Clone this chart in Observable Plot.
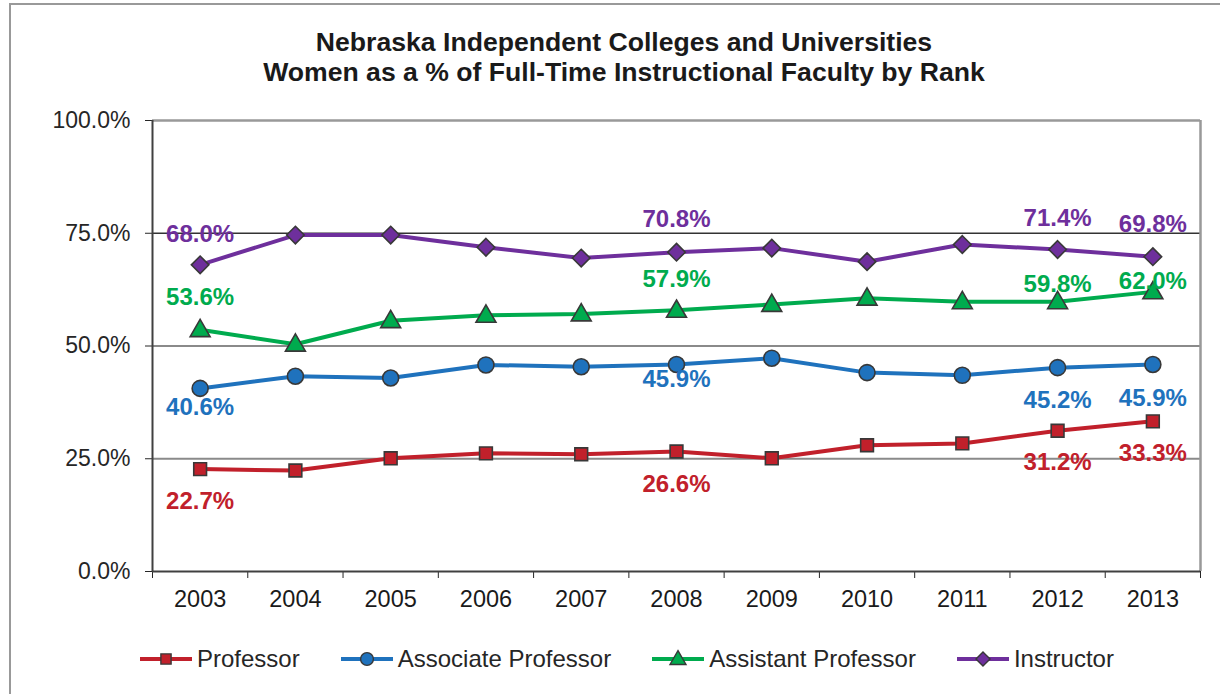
<!DOCTYPE html>
<html>
<head>
<meta charset="utf-8">
<script src="https://cdn.jsdelivr.net/npm/d3@7"></script>
<script src="https://cdn.jsdelivr.net/npm/@observablehq/plot@0.6"></script>
<style>
  html, body { margin: 0; padding: 0; background: #fff; }
  #wrap { position: relative; width: 1220px; height: 694px; overflow: hidden; background: #fff; font-family: "Liberation Sans", Arial, sans-serif; }
  #outer { position: absolute; left: 9px; top: 3px; width: 1400px; height: 900px; border: 2px solid #999; box-sizing: border-box; }
  .title { position: absolute; left: 0; width: 1248px; text-align: center; font-weight: bold; font-size: 26.6px; line-height: 30px; color: #1a1a1a; }
  #legend { position: absolute; left: 139px; top: 645px; display: flex; align-items: center; gap: 40px; font-size: 24px; color: #262626; }
  .item { display: flex; align-items: center; gap: 4px; }
  #chart { position: absolute; left: 0; top: 0; }
</style>
</head>
<body>
<div id="wrap">
  <div id="outer"></div>
  <div id="chart"></div>
  <div class="title" style="top:27px">Nebraska Independent Colleges and Universities</div>
  <div class="title" style="top:57px">Women as a % of Full-Time Instructional Faculty by Rank</div>
  <div id="legend"></div>
</div>
<script>
// ---- data ----
const years = [2003, 2004, 2005, 2006, 2007, 2008, 2009, 2010, 2011, 2012, 2013];
const seriesNames = ["Professor", "Associate Professor", "Assistant Professor", "Instructor"];
const professor = [22.7, 22.4, 25.1, 26.2, 26.0, 26.6, 25.1, 28.0, 28.4, 31.2, 33.3];
const associateProfessor = [40.6, 43.3, 42.9, 45.8, 45.4, 45.9, 47.3, 44.1, 43.5, 45.2, 45.9];
const assistantProfessor = [53.6, 50.4, 55.6, 56.8, 57.1, 57.9, 59.2, 60.6, 59.8, 59.8, 62.0];
const instructor = [68.0, 74.6, 74.6, 71.9, 69.5, 70.8, 71.7, 68.7, 72.5, 71.4, 69.8];
const yTicks = [0, 25, 50, 75, 100];
const labeledYears = [2003, 2008, 2012, 2013];

// ---- styles (kept apart from data) ----
const colors = {
  "Professor": "#C1202B",
  "Associate Professor": "#1F72BD",
  "Assistant Professor": "#00AB4E",
  "Instructor": "#6E2F9C"
};
const diamondSym = { draw(ctx, size) { const r = Math.sqrt(size / 2); ctx.moveTo(0, -r); ctx.lineTo(r, 0); ctx.lineTo(0, r); ctx.lineTo(-r, 0); ctx.closePath(); } };
const squareSym = { draw(ctx, size) { const w = Math.sqrt(size) / 2; ctx.rect(-w, -w, 2 * w, 2 * w); } };
const triSym = { draw(ctx, size) { const s = Math.sqrt(size * 4 / Math.sqrt(3)); const h = s * Math.sqrt(3) / 2; ctx.moveTo(0, -h * 0.6); ctx.lineTo(s / 2, h * 0.4); ctx.lineTo(-s / 2, h * 0.4); ctx.closePath(); } };
const symbols = {
  "Professor": {sym: squareSym, r: 7.2},
  "Associate Professor": {sym: "circle", r: 8},
  "Assistant Professor": {sym: triSym, r: 7.4},
  "Instructor": {sym: diamondSym, r: 7}
};
// label offsets in pixels (dy) for each series at labeled years
const labelDy = {
  "Professor": [32, 33, 32, 32],
  "Associate Professor": [19, 15, 33, 34],
  "Assistant Professor": [-32, -31, -17, -11],
  "Instructor": [-31, -33, -31, -32]
};

const valuesBySeries = {
  "Professor": professor,
  "Associate Professor": associateProfessor,
  "Assistant Professor": assistantProfessor,
  "Instructor": instructor
};
const data = seriesNames.flatMap(s => years.map((yr, i) => ({series: s, year: yr, value: valuesBySeries[s][i]})));

const xMin = years[0] - 0.5, xMax = years[years.length - 1] + 0.5;
const boundaries = years.map(y => y - 0.5).concat([xMax]);

const marks = [
  Plot.ruleY([25, 50], {stroke: "#8a8a8a", strokeWidth: 2}),
  Plot.ruleY([75], {stroke: "#333", strokeWidth: 1.5}),
  Plot.ruleY([yTicks[yTicks.length - 1]], {stroke: "#999", strokeWidth: 2.5}),
  Plot.ruleX([xMax], {stroke: "#999", strokeWidth: 2.5}),
  Plot.ruleX([xMin], {stroke: "#404040", strokeWidth: 2}),
  Plot.ruleY([yTicks[0]], {stroke: "#404040", strokeWidth: 2}),
  Plot.text(years, {x: d => d, text: d => String(d), frameAnchor: "bottom", dy: 35, fill: "#1a1a1a", fontSize: 23.5}),
];
for (const s of seriesNames) {
  const rows = data.filter(d => d.series === s);
  marks.push(Plot.line(rows, {x: "year", y: "value", stroke: colors[s], strokeWidth: 4}));
}
for (const s of seriesNames) {
  const rows = data.filter(d => d.series === s);
  marks.push(Plot.dot(rows, {x: "year", y: "value", symbol: () => symbols[s].sym, r: symbols[s].r, fill: colors[s], stroke: "#383838", strokeWidth: 1.6}));
}
for (const s of seriesNames) {
  labeledYears.forEach((yr, k) => {
    const rows = data.filter(d => d.series === s && d.year === yr);
    marks.push(Plot.text(rows, {
      x: "year", y: "value", text: d => d.value.toFixed(1) + "%",
      dy: labelDy[s][k], fill: colors[s], fontWeight: "bold", fontSize: 24,
      fontFamily: "'Liberation Sans Narrow', 'Arial Narrow', 'Liberation Sans', Arial, sans-serif"
    }));
  });
}

const chart = Plot.plot({
  width: 1220,
  height: 694,
  marginLeft: 152,
  marginRight: 20,
  marginTop: 120,
  marginBottom: 123,
  style: {background: "transparent", fontFamily: "'Liberation Sans', Arial, sans-serif", fontSize: "23px", color: "#262626", overflow: "visible"},
  x: {type: "linear", domain: [xMin, xMax], ticks: boundaries, tickFormat: () => "", tickSize: 7, label: null},
  y: {domain: [yTicks[0], yTicks[yTicks.length - 1]], ticks: yTicks, tickFormat: d => d.toFixed(1) + "%", tickSize: 7, tickPadding: 15, label: null},
  symbol: {type: "identity"},
  marks
});
document.getElementById("chart").appendChild(chart);

// legend
const legend = document.getElementById("legend");
for (const s of seriesNames) {
  const item = document.createElement("div");
  item.className = "item";
  const svg = d3.create("svg").attr("width", 54).attr("height", 22);
  svg.append("line").attr("x1", 1).attr("x2", 53).attr("y1", 11).attr("y2", 11).attr("stroke", colors[s]).attr("stroke-width", 4);
  const symDef = symbols[s].sym === "circle" ? d3.symbolCircle : symbols[s].sym;
  const sz = Math.PI * (symbols[s].r * 0.8) ** 2;
  svg.append("path").attr("transform", "translate(27,11)").attr("d", d3.symbol(symDef, sz)()).attr("fill", colors[s]).attr("stroke", "#383838").attr("stroke-width", 1.4);
  item.appendChild(svg.node());
  const t = document.createElement("span");
  t.textContent = s;
  item.appendChild(t);
  legend.appendChild(item);
}
</script>
</body>
</html>
